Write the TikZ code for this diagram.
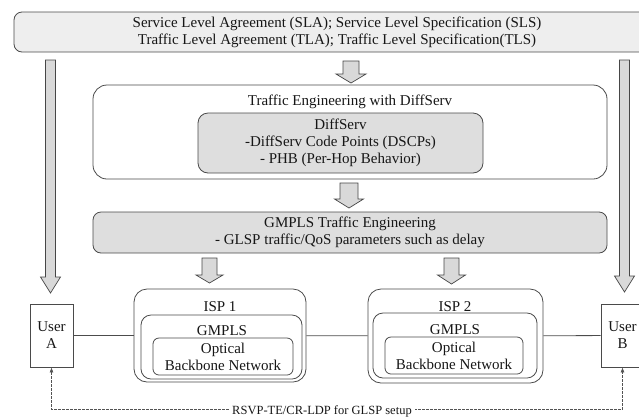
\documentclass[tikz,border=0pt]{standalone}
\usepackage{fontspec}
\setmainfont{Liberation Serif}
\usetikzlibrary{arrows.meta}
\definecolor{panelgray}{HTML}{EEEEEE}
\definecolor{innergray}{HTML}{DEDEDE}
\definecolor{arrowgray}{HTML}{D9D9D9}
\definecolor{edgegray}{HTML}{4A4A4A}
\definecolor{inkgray}{HTML}{161616}
\tikzset{
  box/.style={draw=edgegray, line width=0.8pt, rounded corners=#1, inner sep=0pt, align=center},
  box/.default=6pt,
  userbox/.style={draw=edgegray, line width=0.8pt, inner sep=0pt, align=center, minimum width=43pt, minimum height=63pt},
  txt/.style={inner sep=0pt, align=center},
  blockarrow/.style={fill=arrowgray, draw=gray!55!black, line width=0.7pt},
  link/.style={draw=gray!60!black, line width=0.8pt},
  signal/.style={draw=gray!65!black, line width=0.7pt, dash pattern=on 2.5pt off 1.5pt, {Latex[length=5pt,width=4pt]}-{Latex[length=5pt,width=4pt]}}
}
% hollow block arrow pointing down: centre x, top, head base, tip, half shaft, half head
\newcommand{\blockdown}[6]{%
  \draw[blockarrow] ({#1-#5},#2) -- ({#1+#5},#2) -- ({#1+#5},#3) -- ({#1+#6},#3)
    -- (#1,#4) -- ({#1-#6},#3) -- ({#1-#5},#3) -- cycle;}
\begin{document}
\begin{tikzpicture}[x=1pt, y=-1pt, font=\fontsize{15}{17}\selectfont, text=inkgray]
\useasboundingbox (0,0) rectangle (639,416);
\clip (0,0) rectangle (639,416);
% agreements on top
\node[box=8pt, fill=panelgray, minimum width=646pt, minimum height=40pt] (sla) at (337,32)
  {Service Level Agreement (SLA); Service Level Specification (SLS)\\Traffic Level Agreement (TLA); Traffic Level Specification(TLS)};
\blockdown{50.5}{60}{277}{293}{5}{10}
\blockdown{624.5}{60}{276}{292}{5}{10}
\blockdown{351}{61}{74}{83}{8}{15}
% traffic engineering layers
\node[box=14pt, minimum width=514pt, minimum height=94pt] (te) at (350,132) {};
\node[txt] (tetitle) at (350,102) {Traffic Engineering with DiffServ};
\node[box=10pt, fill=innergray, minimum width=285pt, minimum height=60pt] (diffserv) at (340.5,143)
  {DiffServ\\-DiffServ Code Points (DSCPs)\\- PHB (Per-Hop Behavior)};
\blockdown{349}{183}{199}{208}{9}{14.5}
\node[box=8pt, fill=innergray, minimum width=514pt, minimum height=41pt] (gmplste) at (350,232.5)
  {GMPLS Traffic Engineering\\- GLSP traffic/QoS parameters such as delay};
\blockdown{209.5}{258}{275}{283}{7.5}{13.5}
\blockdown{451.5}{258}{275}{284}{7.5}{14}
% ISP domains
\node[box=13pt, minimum width=172pt, minimum height=93pt] (isp1) at (220,335.5) {};
\node[txt] (isp1t) at (220,307) {ISP 1};
\node[box=10pt, minimum width=161pt, minimum height=64pt] (gmpls1) at (221.5,347) {};
\node[txt] (gmpls1t) at (222,331) {GMPLS};
\node[box=6pt, minimum width=140pt, minimum height=37pt] (optical1) at (223,356.5) {Optical\\Backbone Network};
\node[box=13pt, minimum width=175pt, minimum height=94pt] (isp2) at (455.5,336) {};
\node[txt] (isp2t) at (455,307) {ISP 2};
\node[box=10pt, minimum width=164pt, minimum height=65pt] (gmpls2) at (455,345.5) {};
\node[txt] (gmpls2t) at (455,330) {GMPLS};
\node[box=6pt, minimum width=138pt, minimum height=37pt] (optical2) at (454,355.5) {Optical\\Backbone Network};
% end users
\node[userbox] (usera) at (51.5,335.5) {User\\A};
\node[userbox] (userb) at (622.5,335.5) {User\\B};
\draw[link] (usera) -- (isp1);
\draw[link] (isp1) -- (isp2);
\draw[link] (isp2) -- (userb);
\draw[signal] (usera.south) -- ++(0,42) -| (userb.south);
\node[txt, fill=white, inner xsep=3pt, inner ysep=1pt, font=\fontsize{12.5}{14}\selectfont] (rsvp) at (322,411) {RSVP-TE/CR-LDP for GLSP setup};
\end{tikzpicture}
\end{document}
